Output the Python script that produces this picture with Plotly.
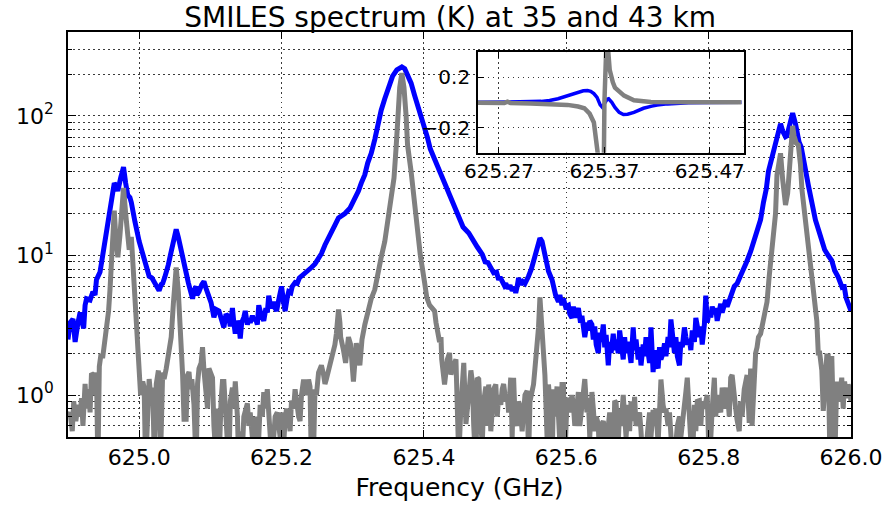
import plotly.graph_objects as go

# ---------------- data ----------------
blue_freq = [
    624.900, 624.903, 624.907, 624.910, 624.914, 624.917, 624.920, 624.922, 624.924, 624.926,
    624.931, 624.935, 624.938, 624.940, 624.945, 624.949, 624.954, 624.959, 624.961, 624.965,
    624.967, 624.970, 624.974, 624.978, 624.981, 624.984, 624.987, 624.989, 624.994, 624.997,
    625.000, 625.004, 625.007, 625.011, 625.014, 625.018, 625.021, 625.025, 625.028, 625.031,
    625.033, 625.036, 625.038, 625.041, 625.045, 625.048, 625.052, 625.055, 625.058, 625.062,
    625.066, 625.069, 625.072, 625.075, 625.077, 625.080, 625.081, 625.084, 625.088, 625.091,
    625.094, 625.098, 625.101, 625.105, 625.108, 625.112, 625.116, 625.119, 625.122, 625.126,
    625.128, 625.131, 625.133, 625.135, 625.138, 625.140, 625.142, 625.144, 625.147, 625.149,
    625.152, 625.154, 625.156, 625.159, 625.161, 625.163, 625.166, 625.168, 625.171, 625.173,
    625.175, 625.178, 625.180, 625.182, 625.185, 625.187, 625.189, 625.191, 625.193, 625.196,
    625.198, 625.200, 625.203, 625.205, 625.208, 625.210, 625.213, 625.215, 625.219, 625.222,
    625.225, 625.228, 625.232, 625.236, 625.239, 625.242, 625.247, 625.252, 625.256, 625.261,
    625.266, 625.270, 625.275, 625.280, 625.284, 625.289, 625.296, 625.302, 625.308, 625.312,
    625.317, 625.321, 625.326, 625.331, 625.335, 625.340, 625.345, 625.351, 625.356, 625.362,
    625.366, 625.369, 625.373, 625.377, 625.382, 625.387, 625.393, 625.398, 625.401, 625.405,
    625.409, 625.415, 625.419, 625.426, 625.433, 625.440, 625.447, 625.455, 625.463, 625.468,
    625.475, 625.482, 625.486, 625.490, 625.495, 625.498, 625.502, 625.505, 625.507, 625.510,
    625.513, 625.515, 625.518, 625.521, 625.524, 625.527, 625.529, 625.531, 625.533, 625.536,
    625.539, 625.542, 625.545, 625.547, 625.551, 625.555, 625.559, 625.563, 625.566, 625.569,
    625.572, 625.575, 625.580, 625.582, 625.585, 625.589, 625.591, 625.594, 625.596, 625.599,
    625.603, 625.605, 625.608, 625.610, 625.613, 625.617, 625.620, 625.622, 625.624, 625.626,
    625.629, 625.631, 625.633, 625.636, 625.638, 625.640, 625.642, 625.645, 625.647, 625.649,
    625.652, 625.654, 625.656, 625.659, 625.661, 625.663, 625.666, 625.668, 625.670, 625.673,
    625.675, 625.677, 625.680, 625.682, 625.684, 625.687, 625.689, 625.691, 625.694, 625.696,
    625.698, 625.701, 625.703, 625.705, 625.708, 625.710, 625.712, 625.715, 625.717, 625.719,
    625.722, 625.724, 625.726, 625.729, 625.731, 625.733, 625.736, 625.738, 625.740, 625.743,
    625.745, 625.747, 625.750, 625.752, 625.754, 625.756, 625.759, 625.761, 625.763, 625.766,
    625.768, 625.770, 625.773, 625.775, 625.777, 625.780, 625.782, 625.784, 625.787, 625.789,
    625.791, 625.794, 625.796, 625.798, 625.801, 625.803, 625.805, 625.808, 625.810, 625.812,
    625.815, 625.817, 625.819, 625.822, 625.824, 625.826, 625.829, 625.831, 625.833, 625.836,
    625.840, 625.845, 625.849, 625.853, 625.859, 625.863, 625.867, 625.873, 625.877, 625.881,
    625.884, 625.891, 625.896, 625.901, 625.904, 625.908, 625.910, 625.914, 625.918, 625.922,
    625.925, 625.927, 625.930, 625.933, 625.935, 625.940, 625.946, 625.950, 625.954, 625.959,
    625.963, 625.968, 625.973, 625.977, 625.982, 625.987, 625.990, 625.993, 625.996, 626.000,
]
blue_temp = [
    2.5, 3.3, 3.5, 2.4, 3.3, 3.9, 3.3, 3.0, 4.4, 4.9,
    4.8, 5.5, 5.2, 6.7, 7.6, 10.2, 14, 19, 23, 33,
    32, 29, 36, 43, 33, 27, 26, 24, 17.5, 14.5,
    12.6, 10.7, 9.4, 7.8, 7.1, 6.9, 6.5, 6.0, 5.6, 6.2,
    6.3, 7.0, 7.5, 8.6, 10.7, 13, 15.4, 13.5, 11.3, 9,
    7.6, 6.4, 5.6, 4.9, 5.6, 6.0, 5.2, 5.5, 6.2, 6.5,
    5.8, 5.15, 4.6, 3.6, 4.1, 4.0, 3.4, 3.05, 3.8, 3.6,
    3.1, 4.2, 3.3, 2.75, 3.4, 3.2, 2.54, 3.3, 3.6, 4.0,
    3.2, 3.5, 3.3, 3.7, 3.4, 3.6, 3.2, 4.4, 3.8, 3.5,
    3.4, 4.2, 3.9, 5.15, 4.2, 4.4, 4.65, 4.2, 4.0, 4.8,
    5.2, 6.0, 4.6, 4.0, 5.0, 5.5, 5.4, 6.0, 6.4, 6.3,
    6.9, 7.1, 7.3, 7.7, 7.9, 8.2, 8.7, 9.4, 10.3, 11.9,
    13.2, 14.7, 16.5, 18.6, 19.2, 20, 21.8, 25, 29, 33,
    38, 46, 54, 68, 88, 110, 133, 165, 193, 214,
    222, 225, 218, 200, 172, 140, 112, 92, 85, 70,
    58, 49, 43, 35, 29, 23.6, 19.2, 16, 14.5, 13,
    11.5, 10.2, 9.0, 8.9, 8.1, 7.5, 7.6, 6.7, 7.0, 6.4,
    6.1, 6.3, 5.8, 6.1, 5.6, 5.9, 5.4, 6.0, 6.9, 6.2,
    6.5, 6.3, 7.0, 7.1, 8.0, 9.5, 11.2, 13.3, 12.6, 10.5,
    9.0, 7.7, 6.7, 6.0, 5.2, 4.65, 5.2, 4.4, 4.9, 4.3,
    4.4, 3.8, 3.57, 4.3, 3.6, 4.2, 3.3, 3.7, 3.1, 2.6,
    3.3, 2.9, 3.4, 3.2, 2.5, 3.1, 2.3, 2.0, 2.8, 2.4,
    3.2, 2.2, 2.7, 1.63, 2.4, 2.0, 2.75, 2.1, 2.5, 2.0,
    2.9, 2.2, 1.8, 2.6, 2.0, 2.4, 1.9, 1.7, 3.05, 2.1,
    2.5, 1.8, 2.2, 1.63, 2.3, 1.9, 2.6, 2.0, 1.7, 3.05,
    1.46, 2.1, 1.7, 1.55, 2.2, 1.8, 2.0, 2.35, 1.9, 2.6,
    2.2, 3.48, 2.3, 2.0, 2.6, 1.9, 1.63, 2.4, 2.2, 3.05,
    2.6, 2.3, 2.5, 2.1, 2.9, 2.4, 3.57, 3.0, 2.6, 3.1,
    2.3, 3.2, 5.15, 3.3, 4.0, 3.6, 4.3, 3.8, 4.2, 3.4,
    4.0, 4.5, 3.9, 4.4, 4.8, 4.3, 4.8, 5.2, 5.5, 6.0,
    6.3, 7.1, 7.9, 8.9, 10.7, 12.5, 14.5, 18.1, 24, 30,
    40, 55, 65, 88, 78, 71, 72, 90, 105, 88,
    70, 65, 60, 52, 44, 32, 22, 18, 15.5, 13,
    11, 10, 9.2, 7.8, 7.0, 6.0, 6.2, 5.0, 4.4, 4.0,
]

gray_freq = [
    624.900, 624.903, 624.906, 624.908, 624.911, 624.914, 624.917, 624.919, 624.921, 624.924,
    624.926, 624.929, 624.931, 624.933, 624.935, 624.938, 624.940, 624.942, 624.944, 624.946,
    624.949, 624.952, 624.954, 624.957, 624.959, 624.962, 624.965, 624.967, 624.970, 624.973,
    624.976, 624.978, 624.981, 624.984, 624.986, 624.989, 624.991, 624.994, 624.996, 624.998,
    625.000, 625.002, 625.005, 625.007, 625.009, 625.012, 625.014, 625.017, 625.019, 625.021,
    625.024, 625.027, 625.030, 625.033, 625.035, 625.038, 625.041, 625.043, 625.045, 625.048,
    625.050, 625.052, 625.055, 625.057, 625.059, 625.061, 625.063, 625.066, 625.068, 625.070,
    625.072, 625.074, 625.077, 625.080, 625.082, 625.084, 625.087, 625.089, 625.091, 625.094,
    625.096, 625.098, 625.101, 625.103, 625.105, 625.108, 625.110, 625.112, 625.115, 625.117,
    625.119, 625.121, 625.124, 625.126, 625.128, 625.131, 625.133, 625.135, 625.138, 625.140,
    625.142, 625.145, 625.147, 625.149, 625.152, 625.154, 625.156, 625.159, 625.161, 625.163,
    625.166, 625.168, 625.170, 625.173, 625.175, 625.177, 625.180, 625.182, 625.184, 625.187,
    625.189, 625.191, 625.194, 625.196, 625.198, 625.200, 625.203, 625.205, 625.207, 625.210,
    625.212, 625.214, 625.217, 625.219, 625.221, 625.224, 625.226, 625.228, 625.231, 625.233,
    625.235, 625.238, 625.240, 625.242, 625.245, 625.247, 625.249, 625.252, 625.254, 625.256,
    625.259, 625.261, 625.263, 625.266, 625.268, 625.270, 625.273, 625.275, 625.277, 625.280,
    625.282, 625.283, 625.287, 625.290, 625.294, 625.297, 625.301, 625.305, 625.310, 625.313,
    625.317, 625.321, 625.326, 625.331, 625.335, 625.340, 625.345, 625.349, 625.354, 625.358,
    625.361, 625.363, 625.366, 625.369, 625.372, 625.375, 625.377, 625.382, 625.386, 625.391,
    625.395, 625.401, 625.404, 625.408, 625.411, 625.415, 625.417, 625.419, 625.422, 625.424,
    625.425, 625.429, 625.431, 625.433, 625.436, 625.438, 625.440, 625.443, 625.445, 625.447,
    625.449, 625.452, 625.454, 625.456, 625.459, 625.461, 625.463, 625.466, 625.468, 625.470,
    625.473, 625.475, 625.477, 625.480, 625.482, 625.484, 625.487, 625.489, 625.491, 625.494,
    625.496, 625.498, 625.501, 625.503, 625.505, 625.508, 625.510, 625.512, 625.515, 625.517,
    625.519, 625.522, 625.524, 625.526, 625.528, 625.531, 625.533, 625.535, 625.538, 625.540,
    625.542, 625.545, 625.547, 625.549, 625.552, 625.554, 625.556, 625.559, 625.561, 625.563,
    625.566, 625.568, 625.570, 625.573, 625.575, 625.577, 625.580, 625.582, 625.584, 625.587,
    625.589, 625.591, 625.594, 625.596, 625.598, 625.601, 625.603, 625.605, 625.608, 625.610,
    625.612, 625.615, 625.617, 625.619, 625.622, 625.624, 625.626, 625.629, 625.631, 625.633,
    625.636, 625.638, 625.640, 625.642, 625.645, 625.647, 625.649, 625.652, 625.654, 625.657,
    625.659, 625.661, 625.663, 625.666, 625.668, 625.670, 625.673, 625.675, 625.677, 625.680,
    625.682, 625.684, 625.687, 625.689, 625.691, 625.694, 625.696, 625.698, 625.701, 625.703,
    625.705, 625.708, 625.710, 625.712, 625.715, 625.717, 625.719, 625.722, 625.724, 625.726,
    625.729, 625.731, 625.733, 625.736, 625.738, 625.740, 625.743, 625.745, 625.747, 625.750,
    625.752, 625.754, 625.756, 625.759, 625.761, 625.763, 625.766, 625.768, 625.770, 625.773,
    625.775, 625.777, 625.780, 625.782, 625.784, 625.787, 625.789, 625.791, 625.794, 625.796,
    625.798, 625.801, 625.803, 625.805, 625.808, 625.810, 625.812, 625.815, 625.817, 625.819,
    625.822, 625.824, 625.826, 625.829, 625.831, 625.833, 625.836, 625.838, 625.840, 625.843,
    625.845, 625.847, 625.850, 625.852, 625.854, 625.857, 625.859, 625.861, 625.864, 625.866,
    625.868, 625.870, 625.873, 625.875, 625.878, 625.882, 625.885, 625.888, 625.891, 625.894,
    625.896, 625.899, 625.901, 625.904, 625.906, 625.908, 625.911, 625.914, 625.916, 625.918,
    625.920, 625.923, 625.926, 625.929, 625.931, 625.934, 625.937, 625.940, 625.945, 625.950,
    625.952, 625.954, 625.956, 625.959, 625.961, 625.963, 625.966, 625.968, 625.970, 625.973,
    625.975, 625.977, 625.980, 625.982, 625.984, 625.987, 625.989, 625.991, 625.994, 625.996,
    625.998, 626.000,
]
gray_temp = [
    0.7, 0.75, 0.55, 0.9, 0.65, 0.85, 0.7, 0.95, 0.6, 1.2,
    0.8, 1.1, 0.75, 1.43, 1.4, 1.0, 1.45, 0.3, 1.6, 1.9,
    1.9, 2.4, 2.9, 4.0, 5.7, 11, 21, 14, 9.7, 14,
    24, 30.5, 20, 12.6, 11, 13.6, 9, 5.7, 3.2, 2.0,
    1.4, 1.0, 1.25, 1.13, 0.3, 1.1, 1.3, 0.9, 1.13, 0.4,
    1.2, 1.5, 0.35, 1.45, 1.3, 1.55, 2.0, 2.3, 2.6, 4.5,
    6.5, 8.2, 5.5, 3.6, 2.6, 1.4, 0.67, 0.67, 1.39, 1.46,
    1.1, 1.3, 0.85, 0.3, 1.2, 1.55, 1.7, 2.2, 1.5, 1.1,
    0.8, 1.55, 1.4, 1.33, 0.6, 0.35, 0.8, 0.3, 0.9, 1.25,
    1.25, 0.7, 0.45, 0.3, 0.9, 1.13, 0.8, 1.25, 0.7, 0.3,
    0.55, 0.4, 0.7, 0.8, 0.87, 0.6, 0.75, 0.5, 0.42, 0.7,
    0.3, 0.5, 0.85, 0.7, 1.05, 0.8, 1.1, 0.75, 0.55, 0.3,
    0.5, 0.7, 0.75, 0.62, 0.5, 0.75, 0.45, 0.65, 0.8, 0.7,
    0.55, 0.91, 0.8, 1.1, 0.85, 0.7, 0.65, 1.0, 1.29, 1.1,
    1.0, 1.29, 1.15, 0.3, 0.4, 1.1, 1.0, 1.45, 1.55, 1.63,
    1.4, 1.2, 1.3, 1.5, 1.6, 1.8, 2.0, 2.3, 2.75, 4.1,
    3.3, 2.6, 2.1, 1.7, 2.6, 2.3, 1.25, 2.35, 1.63, 2.5,
    3.2, 3.97, 4.9, 5.7, 7.4, 9.7, 12.6, 17.2, 23.6, 36,
    60, 100, 160, 203, 160, 100, 62, 40, 26, 16.4,
    10, 6.4, 5.0, 4.4, 4.2, 4.0, 3.3, 2.9, 2.4, 2.6,
    1.8, 1.19, 1.5, 1.8, 2.0, 1.4, 1.55, 1.7, 1.8, 0.78,
    0.35, 0.83, 1.55, 1.7, 0.62, 0.9, 1.0, 1.5, 1.25, 0.6,
    0.3, 1.33, 1.3, 0.6, 0.45, 0.9, 1.15, 0.6, 1.19, 0.55,
    1.0, 1.1, 1.19, 0.7, 1.0, 0.85, 1.1, 1.2, 0.9, 1.0,
    0.75, 1.33, 0.5, 1.33, 0.7, 0.6, 0.9, 0.83, 0.55, 0.75,
    1.0, 1.07, 0.35, 0.9, 1.1, 1.19, 1.55, 2.1, 3.05, 5.0,
    3.0, 1.8, 1.39, 0.5, 1.19, 0.9, 0.3, 1.1, 0.7, 1.15,
    0.8, 0.45, 1.19, 1.19, 0.35, 0.9, 0.95, 0.75, 1.0, 0.85,
    0.6, 1.0, 1.05, 0.6, 0.8, 1.0, 1.3, 0.75, 0.95, 0.5,
    1.05, 0.8, 0.55, 0.7, 0.62, 0.3, 0.6, 0.65, 0.5, 0.4,
    0.6, 0.75, 0.55, 0.3, 0.91, 0.88, 0.45, 0.8, 0.6, 1.0,
    0.7, 0.5, 0.85, 0.55, 0.9, 0.65, 0.97, 0.6, 0.7, 0.75,
    0.55, 0.3, 0.5, 0.4, 0.6, 0.75, 0.5, 0.78, 0.6, 0.8,
    0.45, 0.7, 1.29, 0.85, 0.75, 0.8, 0.6, 0.75, 0.4, 0.3,
    0.5, 0.45, 0.6, 0.7, 0.5, 0.66, 0.9, 1.05, 1.33, 0.8,
    0.55, 0.3, 0.85, 0.55, 0.9, 0.91, 0.6, 0.9, 0.8, 0.95,
    1.0, 0.3, 0.6, 0.8, 1.33, 0.7, 1.0, 0.85, 0.75, 1.13,
    0.8, 0.9, 1.13, 0.7, 1.33, 1.39, 0.9, 0.8, 0.66, 0.55,
    0.9, 0.7, 1.1, 1.25, 1.39, 0.63, 1.55, 0.6, 1.7, 2.0,
    2.2, 2.6, 2.75, 3.05, 3.8, 4.65, 7, 10, 13, 20,
    37.8, 50, 54, 35, 27, 23, 28, 50, 75, 85,
    72, 64, 62, 45, 30, 22, 16, 12, 7.8, 4.9,
    3.4, 2.0, 2.0, 1.5, 0.77, 1.07, 1.9, 1.9, 0.45, 1.9,
    0.78, 0.3, 1.25, 0.9, 1.0, 1.33, 0.8, 1.25, 0.95, 1.19,
    1.1, 0.9,
]

# inset: difference spectra near 625.37 GHz
inset_blue_freq = [
    625.250, 625.270, 625.277, 625.279, 625.282, 625.290, 625.300, 625.310, 625.318, 625.326,
    625.332, 625.338, 625.345, 625.350, 625.354, 625.357, 625.360, 625.363, 625.366, 625.368,
    625.370, 625.3725, 625.374, 625.377, 625.380, 625.384, 625.388, 625.392, 625.398, 625.407,
    625.415, 625.420, 625.430, 625.436, 625.450, 625.470, 625.500,
]
inset_blue_diff = [
    0.0, 0.0, 0.002, 0.006, 0.002, 0.004, 0.006, 0.008, 0.015, 0.029,
    0.045, 0.066, 0.082, 0.092, 0.094, 0.088, 0.07, 0.04, -0.02, -0.039,
    -0.01, 0.025, 0.029, 0.0, -0.04, -0.08, -0.097, -0.094, -0.08, -0.047,
    -0.03, -0.021, -0.012, -0.008, -0.004, -0.002, 0.0,
]
inset_gray_freq = [
    625.250, 625.275, 625.278, 625.281, 625.300, 625.320, 625.335, 625.345, 625.351, 625.356,
    625.360, 625.363, 625.365, 625.368, 625.3695, 625.370, 625.371, 625.372, 625.3735, 625.375,
    625.378, 625.380, 625.3886, 625.398, 625.414, 625.450, 625.500,
]
inset_gray_diff = [
    -0.004, -0.006, 0.006, -0.006, -0.008, -0.012, -0.02, -0.033, -0.047, -0.09,
    -0.16, -0.36, -0.5, -0.5, -0.45, 0.0, 0.45, 0.5, 0.42, 0.26,
    0.16, 0.117, 0.054, 0.017, 0.003, 0.0, 0.0,
]

assert len(blue_freq) == len(blue_temp)
assert len(gray_freq) == len(gray_temp)
assert len(inset_blue_freq) == len(inset_blue_diff)
assert len(inset_gray_freq) == len(inset_gray_diff)

x_ticks = [625.0, 625.2, 625.4, 625.6, 625.8, 626.0]
x_ticklabels = ["625.0", "625.2", "625.4", "625.6", "625.8", "626.0"]
y_ticks = [1, 10, 100]
y_ticklabels = ["10<sup>0</sup>", "10<sup>1</sup>", "10<sup>2</sup>"]
inset_x_ticks = [625.27, 625.37, 625.47]
inset_x_ticklabels = ["625.27", "625.37", "625.47"]
inset_y_ticks = [-0.2, 0.2]
inset_y_ticklabels = ["\u22120.2", "0.2"]

BLUE = "#0000ff"
GRAY = "#808080"
FONT = "DejaVu Sans"
GRID = "#3a3a3a"
DOT = "1.5px,3.5px"

minor_y = [m * 10 ** e for e in (-1, 0, 1, 2) for m in range(2, 10)]
minor_y = [v for v in minor_y if 0.5 <= v <= 400]

fig = go.Figure()
fig.add_trace(go.Scatter(x=blue_freq, y=blue_temp, mode="lines",
                         line=dict(color=BLUE, width=5), xaxis="x", yaxis="y",
                         showlegend=False))
fig.add_trace(go.Scatter(x=gray_freq, y=gray_temp, mode="lines",
                         line=dict(color=GRAY, width=5), xaxis="x", yaxis="y",
                         showlegend=False))
fig.add_trace(go.Scatter(x=inset_blue_freq, y=inset_blue_diff, mode="lines",
                         line=dict(color=BLUE, width=3.5), xaxis="x2", yaxis="y2",
                         showlegend=False))
fig.add_trace(go.Scatter(x=inset_gray_freq, y=inset_gray_diff, mode="lines",
                         line=dict(color=GRAY, width=4.5), xaxis="x2", yaxis="y2",
                         showlegend=False))

axis_common = dict(showline=True, linecolor="black", linewidth=1.5, mirror="ticks",
                   ticks="inside", tickcolor="black", tickwidth=1,
                   showgrid=True, gridcolor=GRID, gridwidth=1, griddash=DOT,
                   zeroline=False)

fig.update_layout(
    width=894, height=509, autosize=False,
    margin=dict(l=68, r=39, t=32, b=54),
    paper_bgcolor="white", plot_bgcolor="white",
    font=dict(family=FONT, color="black"),
    title=dict(text="SMILES spectrum (K) at 35 and 43 km",
               font=dict(family=FONT, size=28, color="black"),
               x=0.5035, xref="container", xanchor="center",
               y=1 - 17 / 509, yref="container", yanchor="middle"),
    xaxis=dict(axis_common, domain=[0, 1], range=[624.9, 626.0],
               tickmode="array", tickvals=x_ticks, ticktext=x_ticklabels, ticklen=7,
               tickfont=dict(family=FONT, size=22),
               title=dict(text="Frequency (GHz)", font=dict(family=FONT, size=25),
                          standoff=9)),
    yaxis=dict(axis_common, type="log", domain=[0, 1],
               range=[-0.30103, 2.60206],
               tickmode="array", tickvals=y_ticks, ticktext=y_ticklabels, ticklen=8,
               tickfont=dict(family=FONT, size=22),
               ticklabelstandoff=8,
               minor=dict(tickmode="array", tickvals=minor_y, ticks="inside", ticklen=4,
                          tickcolor="black", showgrid=True, gridcolor=GRID,
                          gridwidth=1, griddash=DOT)),
    xaxis2=dict(axis_common, domain=[0.5235, 0.8628], anchor="y2",
                range=[625.25, 625.502],
                tickmode="array", tickvals=inset_x_ticks, ticktext=inset_x_ticklabels,
                ticklen=6, tickfont=dict(family=FONT, size=20)),
    yaxis2=dict(axis_common, domain=[0.7021, 0.9504], anchor="x2",
                range=[-0.4, 0.4],
                tickmode="array", tickvals=inset_y_ticks, ticktext=inset_y_ticklabels,
                ticklen=6, tickfont=dict(family=FONT, size=20), ticklabelstandoff=2),
    shapes=[dict(type="rect", xref="x2 domain", yref="y2 domain",
                 x0=0, x1=1, y0=0, y1=1, fillcolor="white",
                 line=dict(width=0), layer="below")],
)

fig.write_html("out.html")
